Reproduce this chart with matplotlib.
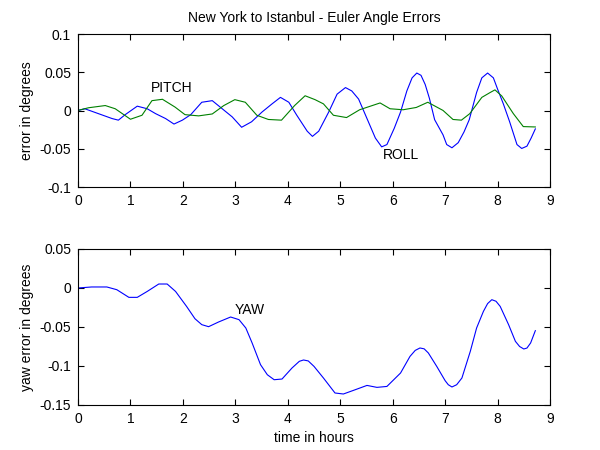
import matplotlib
matplotlib.use("Agg")
import matplotlib.pyplot as plt

plt.rcParams['font.family'] = ['Liberation Sans', 'DejaVu Sans']
plt.rcParams['font.size'] = 10

# roll error (deg) vs time (h)
roll_t = [0, 0.13, 0.39, 0.65, 0.77, 0.9, 1.13, 1.32, 1.48, 1.67, 1.83, 1.99,
          2.15, 2.36, 2.56, 2.75, 2.94, 3.12, 3.31, 3.51, 3.7, 3.86, 4.02, 4.17,
          4.37, 4.47, 4.59, 4.78, 4.94, 5.10, 5.22, 5.35, 5.51, 5.67, 5.79, 5.89,
          6.03, 6.15, 6.27, 6.37, 6.46, 6.54, 6.62, 6.70, 6.80, 6.96, 7.03, 7.13,
          7.25, 7.36, 7.46, 7.6, 7.70, 7.81, 7.92, 8.0, 8.11, 8.23, 8.37, 8.46,
          8.56, 8.64, 8.72]
roll = [0.0001, 0.0023, -0.0041, -0.0105, -0.0126, -0.0054, 0.0057, 0.0023,
        -0.0041, -0.0105, -0.0177, -0.0126, -0.0054, 0.0108, 0.0129, 0.0023,
        -0.0083, -0.0219, -0.0147, -0.0019, 0.0087, 0.0172, 0.0108, -0.006,
        -0.027, -0.0338, -0.027, -0.002, 0.0214, 0.030, 0.0256, 0.015,
        -0.0105, -0.036, -0.0475, -0.0445, -0.0232, -0.002, 0.0256, 0.0427,
        0.049, 0.046, 0.034, 0.016, -0.012, -0.0318, -0.0445, -0.0487,
        -0.042, -0.028, -0.0120, 0.0236, 0.0427, 0.049, 0.0427, 0.028,
        0.0087, -0.0147, -0.0445, -0.0496, -0.0466, -0.036, -0.024]

# pitch error (deg) vs time (h)
pitch_t = [0, 0.2, 0.52, 0.71, 1.0, 1.22, 1.41, 1.61, 1.85, 2.04, 2.3, 2.56,
           2.78, 2.99, 3.19, 3.41, 3.63, 3.88, 4.13, 4.33, 4.52, 4.68, 4.87,
           5.12, 5.37, 5.76, 5.95, 6.2, 6.45, 6.67, 6.96, 7.15, 7.31, 7.47,
           7.7, 7.86, 7.95, 8.08, 8.3, 8.49, 8.72]
pitch = [0.0001, 0.0036, 0.0065, 0.0023, -0.0114, -0.0062, 0.0129, 0.0147,
         0.0045, -0.0054, -0.007, -0.0045, 0.0065, 0.0142, 0.0108, -0.0062,
         -0.0117, -0.0126, 0.0065, 0.0193, 0.0142, 0.0087, -0.0062, -0.0092,
         0.001, 0.0099, 0.0023, 0.001, 0.004, 0.0108, 0.0001, -0.0117,
         -0.0126, -0.0041, 0.0172, 0.0236, 0.027, 0.019, -0.004, -0.021,
         -0.0215]

# yaw error (deg) vs time (h)
yaw_t = [0, 0.26, 0.55, 0.74, 0.97, 1.13, 1.32, 1.54, 1.7, 1.86, 2.07, 2.23,
         2.36, 2.49, 2.68, 2.91, 3.07, 3.2, 3.32, 3.48, 3.61, 3.74, 3.89, 4.08,
         4.22, 4.3, 4.39, 4.5, 4.68, 4.9, 5.06, 5.25, 5.51, 5.7, 5.89, 6.15,
         6.33, 6.43, 6.52, 6.60, 6.68, 6.84, 7.0, 7.06, 7.13, 7.22, 7.32, 7.48,
         7.6, 7.73, 7.81, 7.89, 7.97, 8.05, 8.21, 8.34, 8.42, 8.5, 8.56, 8.63,
         8.72]
yaw = [0, 0.0013, 0.0013, -0.0022, -0.012, -0.012, -0.0044, 0.0051, 0.0051,
       -0.0044, -0.0236, -0.0394, -0.047, -0.0496, -0.0436, -0.0372, -0.0406,
       -0.0513, -0.0705, -0.0983, -0.1112, -0.1176, -0.1167, -0.1026, -0.094,
       -0.0923, -0.0935, -0.1005, -0.1154, -0.1346, -0.1359, -0.1313, -0.1249,
       -0.1274, -0.1262, -0.109, -0.0877, -0.080, -0.0769, -0.078, -0.0833,
       -0.1005, -0.1188, -0.124, -0.1269, -0.124, -0.1154, -0.0812, -0.0513,
       -0.03, -0.020, -0.015, -0.017, -0.0236, -0.047, -0.0684, -0.075,
       -0.0782, -0.077, -0.0705, -0.0547]

blue = (0, 0, 1)
green = (0, 0.5, 0)

fig = plt.figure(figsize=(6, 4.5), dpi=100)
ax1 = fig.add_axes([0.13, 0.5844, 0.7867, 0.34])
ax2 = fig.add_axes([0.13, 0.1, 0.7867, 0.3467])

ax1.plot(roll_t, roll, color=blue, lw=0.8)
ax1.plot(pitch_t, pitch, color=green, lw=0.8)
ax1.set_xlim(0, 9)
ax1.set_ylim(-0.1, 0.1)
ax1.set_yticks([-0.1, -0.05, 0, 0.05, 0.1])
ax1.set_yticklabels(['-0.1', '-0.05', '0', '0.05', '0.1'])
ax1.set_ylabel('error in degrees')
ax1.set_title('New York to Istanbul - Euler Angle Errors', fontsize=10, pad=9)
ax1.text(1.38, 0.03, 'PITCH', va='center')
ax1.text(5.82, -0.058, 'ROLL', va='center')

ax2.plot(yaw_t, yaw, color=blue, lw=0.8)
ax2.set_xlim(0, 9)
ax2.set_ylim(-0.15, 0.05)
ax2.set_yticks([-0.15, -0.1, -0.05, 0, 0.05])
ax2.set_yticklabels(['-0.15', '-0.1', '-0.05', '0', '0.05'])
ax2.set_ylabel('yaw error in degrees')
ax2.set_xlabel('time in hours')
ax2.text(2.99, -0.028, 'YAW', va='center')

for ax in (ax1, ax2):
    ax.set_xticks(range(10))
    ax.tick_params(direction='in', top=True, right=True, length=4, width=0.8,
                   labelsize=10, pad=5)
    for s in ax.spines.values():
        s.set_linewidth(0.8)

fig.savefig('out.png', dpi=100)
